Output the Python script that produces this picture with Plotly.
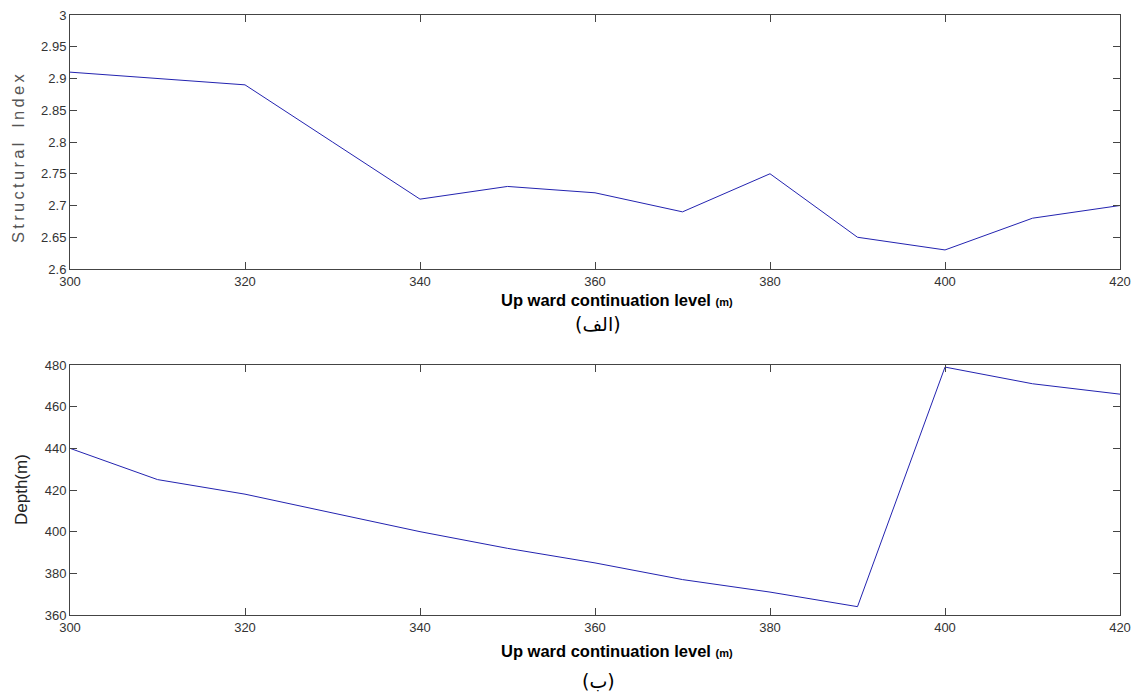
import plotly.graph_objects as go

W, H = 1135, 694

levels = [300, 310, 320, 330, 340, 350, 360, 370, 380, 390, 400, 410, 420]
structural_index = [2.91, 2.90, 2.89, 2.80, 2.71, 2.73, 2.72, 2.69, 2.75, 2.65, 2.63, 2.68, 2.70]
depth = [440, 425, 418, 409, 400, 392, 385, 377, 371, 364, 479, 471, 466]

x_ticks = [300, 320, 340, 360, 380, 400, 420]
si_ticks = [2.6, 2.65, 2.7, 2.75, 2.8, 2.85, 2.9, 2.95, 3.0]
si_ticktext = ["2.6", "2.65", "2.7", "2.75", "2.8", "2.85", "2.9", "2.95", "3"]
depth_ticks = [360, 380, 400, 420, 440, 460, 480]

x_title = "<b>Up ward continuation level <span style='font-size:11px'>(m)</span></b>"
label_a = "\u200e(الف)\u200e"
label_b = "\u200e(ب)\u200e"
si_title = "Structural Index"

line_color = "#2323b0"
axis_color = "#444444"
tick_font = dict(family="Liberation Sans, Arial", size=13, color="#333333")

fig = go.Figure()
fig.add_trace(go.Scatter(x=levels, y=structural_index, mode="lines",
                         line=dict(color=line_color, width=1), xaxis="x", yaxis="y",
                         showlegend=False))
fig.add_trace(go.Scatter(x=levels, y=depth, mode="lines",
                         line=dict(color=line_color, width=1), xaxis="x2", yaxis="y2",
                         showlegend=False))

xd = [70 / W, 1120 / W]
axis_common = dict(showline=True, linecolor=axis_color, linewidth=1, mirror="ticks",
                   ticks="inside", ticklen=7, tickcolor=axis_color, tickwidth=1,
                   showgrid=False, zeroline=False, tickfont=tick_font, automargin=False)

fig.update_layout(
    width=W, height=H,
    margin=dict(l=0, r=0, t=0, b=0, autoexpand=False),
    paper_bgcolor="white", plot_bgcolor="white",
    xaxis=dict(domain=xd, anchor="y", range=[300, 420], tickvals=x_ticks, **axis_common),
    yaxis=dict(domain=[1 - 269 / H, 1 - 15 / H], anchor="x", range=[2.6, 3.0],
               tickvals=si_ticks, ticktext=si_ticktext, **axis_common),
    xaxis2=dict(domain=xd, anchor="y2", range=[300, 420], tickvals=x_ticks, **axis_common),
    yaxis2=dict(domain=[1 - 615 / H, 1 - 365 / H], anchor="x2", range=[360, 480],
                tickvals=depth_ticks, **axis_common),
)

spaced_si = "\u2009".join(si_title).replace("\u2009 \u2009", "\u2009\u2002\u2009")

annotations = [
    dict(text=x_title, x=617 / W, y=1 - 300 / H, xref="paper", yref="paper",
         showarrow=False, font=dict(family="Liberation Sans, Arial", size=16.5, color="black"),
         xanchor="center", yanchor="middle"),
    dict(text=label_a, x=598 / W, y=1 - 324 / H, xref="paper", yref="paper",
         showarrow=False, font=dict(family="DejaVu Sans", size=19, color="black"),
         xanchor="center", yanchor="middle"),
    dict(text=x_title, x=617 / W, y=1 - 651 / H, xref="paper", yref="paper",
         showarrow=False, font=dict(family="Liberation Sans, Arial", size=16.5, color="black"),
         xanchor="center", yanchor="middle"),
    dict(text=label_b, x=598 / W, y=1 - 681 / H, xref="paper", yref="paper",
         showarrow=False, font=dict(family="DejaVu Sans", size=19, color="black"),
         xanchor="center", yanchor="middle"),
    dict(text=spaced_si, x=18 / W, y=1 - 158 / H, xref="paper", yref="paper",
         showarrow=False, textangle=-90,
         font=dict(family="Liberation Sans, Arial", size=16.5, color="#555555"),
         xanchor="center", yanchor="middle"),
    dict(text="Depth(m)", x=22 / W, y=1 - 490 / H, xref="paper", yref="paper",
         showarrow=False, textangle=-90,
         font=dict(family="Liberation Sans, Arial", size=17, color="#222222"),
         xanchor="center", yanchor="middle"),
]
fig.update_layout(annotations=annotations)

fig.write_html("out.html")
